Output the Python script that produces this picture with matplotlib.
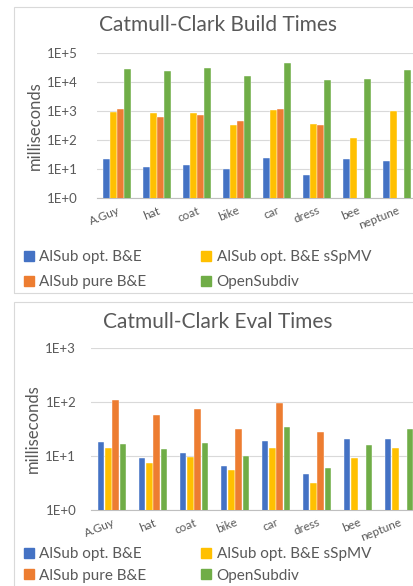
import matplotlib.pyplot as plt
import matplotlib.patches as mpatches
import numpy as np

# Data (log-scale)
models = ["A.Guy", "hat", "coat", "bike", "car", "dress", "bee", "neptune"]
series = ["AlSub opt. B&E", "AlSub opt. B&E sSpMV", "AlSub pure B&E", "OpenSubdiv"]

build_opt = [22, 12, 13.7, 9.7, 24, 6.4, 22.7, 19]
build_sspmv = [950, 850, 880, 338, 1110, 356, 120, 980]
build_pure = [1140, 620, 745, 440, 1200, 320, np.nan, np.nan]
build_osd = [28800, 24000, 29600, 16600, 46500, 12000, 13000, 26700]

eval_opt = [18, 9.1, 11.2, 6.5, 19, 4.65, 20.8, 20.5]
eval_sspmv = [13.9, 7.4, 9.6, 5.5, 13.9, 3.17, 9.2, 14.3]
eval_pure = [110, 58, 74, 32.3, 94, 27.6, np.nan, np.nan]
eval_osd = [16.8, 13.5, 17.3, 9.9, 34.2, 6.1, 15.8, 31]

COLORS = ["#4472C4", "#FFC000", "#ED7D31", "#70AD47"]
TEXT = "#595959"
GRID = "#D9D9D9"
FONT = "Lato"

W, H = 414, 586


def fx(px):
    return px / W


def fy(py):
    return 1 - py / H


def draw_panel(fig, rect, values, ylim, yticks, ytick_labels, title, title_y,
               legend_y, legend_spacing, ypad):
    ax = fig.add_axes(rect)
    x = np.arange(len(models))
    width = 0.155
    for i, (vals, color) in enumerate(zip(values, COLORS)):
        ax.bar(x + (i - 1.5) * 0.175, vals, width, color=color,
               edgecolor="white", linewidth=0.3, zorder=3)

    ax.set_yscale("log")
    ax.set_ylim(*ylim)
    ax.set_xlim(-0.5, len(models) - 0.5)
    ax.set_yticks(yticks)
    ax.set_yticklabels(ytick_labels, fontsize=9.5, color=TEXT, family=FONT)
    ax.minorticks_off()
    ax.set_xticks(x)
    ax.set_xticklabels(models, rotation=22, ha="right", rotation_mode="anchor",
                       fontsize=8.5, color=TEXT, family=FONT)
    ax.tick_params(axis="y", length=0, pad=ypad)
    ax.tick_params(axis="x", length=0, pad=5)
    ax.grid(axis="y", color=GRID, linewidth=0.8, zorder=0)
    for side in ["top", "right", "left"]:
        ax.spines[side].set_visible(False)
    ax.spines["bottom"].set_color("#BFBFBF")
    ax.set_ylabel("milliseconds", fontsize=12, color=TEXT, family=FONT,
                  labelpad=3)

    fig.text(fx(218), fy(title_y), title, ha="center", va="center",
             fontsize=15, color=TEXT, family=FONT)

    handles = [mpatches.Patch(color=COLORS[k]) for k in (0, 2, 1, 3)]
    labels = [series[k] for k in (0, 2, 1, 3)]
    fig.legend(handles, labels, ncol=2, loc="upper left",
               bbox_to_anchor=(fx(24), fy(legend_y)), frameon=False,
               borderpad=0, borderaxespad=0,
               handlelength=0.65, handleheight=0.65, handletextpad=0.35,
               columnspacing=3.6, labelspacing=legend_spacing,
               prop={"family": FONT, "size": 11}, labelcolor=TEXT)
    return ax


fig = plt.figure(figsize=(W / 100, H / 100), dpi=100)
fig.patch.set_facecolor("white")

# panel frames
fig.add_artist(mpatches.Rectangle((fx(14), fy(293)), fx(420), fy(7) - fy(293),
                                  fill=False, edgecolor=GRID, linewidth=0.8))
fig.add_artist(mpatches.Rectangle((fx(14), fy(600)), fx(420), fy(302) - fy(600),
                                  fill=False, edgecolor=GRID, linewidth=0.8))

draw_panel(fig, [fx(97), fy(198), fx(320), fy(53) - fy(198)],
           [build_opt, build_sspmv, build_pure, build_osd],
           (1, 1e5), [1, 10, 100, 1e3, 1e4, 1e5],
           ["1E+0", "1E+1", "1E+2", "1E+3", "1E+4", "1E+5"],
           "Catmull-Clark Build Times", 25, 250, 0.75, 14)

draw_panel(fig, [fx(91.5), fy(510), fx(328), fy(348) - fy(510)],
           [eval_opt, eval_sspmv, eval_pure, eval_osd],
           (1, 1e3), [1, 10, 100, 1e3],
           ["1E+0", "1E+1", "1E+2", "1E+3"],
           "Catmull-Clark Eval Times", 322, 547, 0.5, 11)

fig.savefig("out.png", dpi=100)
